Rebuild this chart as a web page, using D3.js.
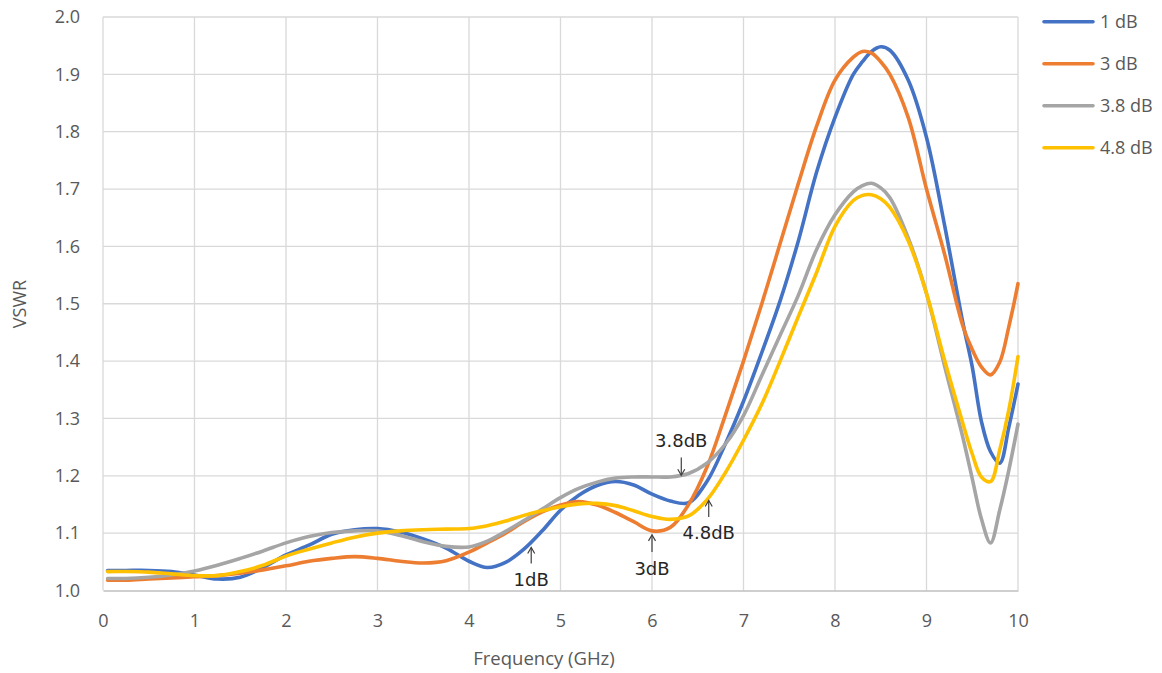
<!DOCTYPE html>
<html>
<head>
<meta charset="utf-8">
<script src="https://cdn.jsdelivr.net/npm/d3@7"></script>
<style>
  html, body { margin: 0; padding: 0; background: #ffffff; }
  svg { display: block; }
</style>
</head>
<body>
<svg id="chart" width="1162" height="673"></svg>
<script>
// ---------------- data ----------------
const freq = [0.05, 0.25, 0.5, 0.75, 1.0, 1.25, 1.5, 1.75, 2.0, 2.25, 2.5, 2.75, 3.0, 3.25, 3.5, 3.75,
  4.0, 4.2, 4.4, 4.6, 4.8, 5.0, 5.2, 5.4, 5.6, 5.8, 6.0, 6.2, 6.4, 6.6, 6.8, 7.0, 7.2, 7.4, 7.6, 7.8,
  8.0, 8.2, 8.3, 8.4, 8.5, 8.6, 8.8, 9.0, 9.2, 9.4, 9.5, 9.6, 9.7, 9.8, 9.9, 10.0];

const vswr1dB = [1.035, 1.035, 1.035, 1.033, 1.027, 1.020, 1.023, 1.040, 1.062, 1.079, 1.098, 1.106, 1.108, 1.102, 1.090, 1.074,
  1.051, 1.040, 1.049, 1.072, 1.104, 1.140, 1.166, 1.183, 1.190, 1.184, 1.168, 1.156, 1.153, 1.190, 1.255, 1.330, 1.415, 1.505, 1.610, 1.730,
  1.825, 1.900, 1.922, 1.940, 1.948, 1.942, 1.890, 1.790, 1.635, 1.465, 1.390, 1.295, 1.242, 1.222, 1.285, 1.360];

const vswr3dB = [1.018, 1.018, 1.020, 1.022, 1.024, 1.026, 1.030, 1.036, 1.043, 1.051, 1.056, 1.059, 1.056, 1.051, 1.048, 1.052,
  1.067, 1.083, 1.100, 1.120, 1.137, 1.149, 1.155, 1.149, 1.136, 1.120, 1.104, 1.110, 1.150, 1.215, 1.305, 1.400, 1.500, 1.605, 1.710, 1.810,
  1.890, 1.930, 1.940, 1.937, 1.922, 1.900, 1.825, 1.700, 1.585, 1.460, 1.420, 1.390, 1.376, 1.398, 1.460, 1.535];

const vswr38dB = [1.021, 1.021, 1.023, 1.027, 1.034, 1.044, 1.056, 1.069, 1.083, 1.094, 1.101, 1.104, 1.104, 1.096, 1.085, 1.077,
  1.076, 1.086, 1.103, 1.122, 1.142, 1.162, 1.178, 1.189, 1.196, 1.198, 1.198, 1.198, 1.204, 1.222, 1.255, 1.305, 1.375, 1.445, 1.515, 1.595,
  1.655, 1.695, 1.706, 1.710, 1.702, 1.685, 1.615, 1.518, 1.390, 1.265, 1.195, 1.125, 1.083, 1.140, 1.210, 1.290];

const vswr48dB = [1.033, 1.033, 1.032, 1.029, 1.026, 1.026, 1.033, 1.044, 1.060, 1.072, 1.083, 1.093, 1.100, 1.104, 1.106, 1.107,
  1.108, 1.113, 1.121, 1.131, 1.139, 1.146, 1.151, 1.152, 1.148, 1.139, 1.129, 1.124, 1.130, 1.158, 1.205, 1.262, 1.325, 1.400, 1.478, 1.555,
  1.635, 1.680, 1.689, 1.690, 1.683, 1.668, 1.610, 1.518, 1.400, 1.290, 1.238, 1.198, 1.190, 1.245, 1.315, 1.408];

const seriesNames = ["1 dB", "3 dB", "3.8 dB", "4.8 dB"];
const seriesValues = [vswr1dB, vswr3dB, vswr38dB, vswr48dB];
const seriesColors = ["#4472C4", "#ED7D31", "#A5A5A5", "#FFC000"];

const xTicks = [0, 1, 2, 3, 4, 5, 6, 7, 8, 9, 10];
const yTicks = [1.0, 1.1, 1.2, 1.3, 1.4, 1.5, 1.6, 1.7, 1.8, 1.9, 2.0];

// annotations: label, frequency the arrow points at, value the arrow tip sits at, direction
const annotations = [
  { label: "1dB",   f: 4.68, tip: 1.075, tail: 1.047, textV: 1.007, dir: "up" },
  { label: "3dB",   f: 6.00, tip: 1.097, tail: 1.067, textV: 1.027, dir: "up" },
  { label: "3.8dB", f: 6.32, tip: 1.201, tail: 1.232, textV: 1.251, dir: "down" },
  { label: "4.8dB", f: 6.62, tip: 1.157, tail: 1.128, textV: 1.090, dir: "up" }
];

// ---------------- drawing ----------------
const svg = d3.select("#chart");
const x = d3.scaleLinear().domain([0, 10]).range([103, 1018]);
const y = d3.scaleLinear().domain([1, 2]).range([590.5, 17]);

const tickFont = "'Open Sans', 'Noto Sans', sans-serif";

// grid
const grid = svg.append("g");
grid.selectAll("line.h").data(yTicks.slice(1)).enter().append("line")
  .attr("x1", x(0)).attr("x2", x(10))
  .attr("y1", d => y(d)).attr("y2", d => y(d))
  .attr("stroke", "#d9d9d9").attr("stroke-width", 1.3);
grid.selectAll("line.v").data(xTicks).enter().append("line")
  .attr("x1", d => x(d)).attr("x2", d => x(d))
  .attr("y1", y(1)).attr("y2", y(2))
  .attr("stroke", "#d9d9d9").attr("stroke-width", 1.3);

// x axis
const xAxis = svg.append("g").attr("transform", `translate(0,${y(1)})`)
  .call(d3.axisBottom(x).tickValues(xTicks).tickSize(0).tickPadding(24).tickFormat(d3.format("d")));
xAxis.select(".domain").attr("stroke", "#bfbfbf").attr("stroke-width", 1.3);
xAxis.selectAll("text").attr("font-family", tickFont).attr("font-size", 18).attr("fill", "#595959");

// y axis
const yAxis = svg.append("g").attr("transform", `translate(${x(0)},0)`)
  .call(d3.axisLeft(y).tickValues(yTicks).tickSize(0).tickPadding(23).tickFormat(d3.format(".1f")));
yAxis.select(".domain").remove();
yAxis.selectAll("text").attr("font-family", tickFont).attr("font-size", 18).attr("fill", "#595959");

// axis titles
svg.append("text").attr("x", 544).attr("y", 665)
  .attr("text-anchor", "middle").attr("font-family", tickFont).attr("font-size", 18.5)
  .attr("fill", "#595959").text("Frequency (GHz)");
svg.append("text").attr("transform", "translate(26,304) rotate(-90)")
  .attr("text-anchor", "middle").attr("font-family", tickFont).attr("font-size", 18)
  .attr("fill", "#595959").text("VSWR");

// lines
const line = d3.line()
  .x(d => x(d[0])).y(d => y(d[1]))
  .curve(d3.curveCatmullRom.alpha(0.5));

seriesValues.forEach((vals, i) => {
  svg.append("path")
    .datum(freq.map((f, j) => [f, vals[j]]))
    .attr("fill", "none")
    .attr("stroke", seriesColors[i])
    .attr("stroke-width", 3.6)
    .attr("stroke-linejoin", "round")
    .attr("stroke-linecap", "round")
    .attr("d", line);
});

// annotations
const ann = svg.append("g");
annotations.forEach(a => {
  const ax = x(a.f), tipY = y(a.tip), tailY = y(a.tail);
  ann.append("line").attr("x1", ax).attr("x2", ax).attr("y1", tailY).attr("y2", tipY)
    .attr("stroke", "#404040").attr("stroke-width", 1.2);
  const s = a.dir === "up" ? 1 : -1;
  ann.append("path")
    .attr("d", `M${ax - 3.5},${tipY + s * 6} L${ax},${tipY} L${ax + 3.5},${tipY + s * 6}`)
    .attr("fill", "none").attr("stroke", "#404040").attr("stroke-width", 1.2);
  ann.append("text").attr("x", ax).attr("y", y(a.textV))
    .attr("text-anchor", "middle")
    .attr("font-family", "'DejaVu Sans', sans-serif").attr("font-size", 18)
    .attr("fill", "#262626").text(a.label);
});

// legend
const legend = svg.append("g");
seriesNames.forEach((name, i) => {
  const ly = 21.7 + i * 42;
  legend.append("line").attr("x1", 1044).attr("x2", 1093).attr("y1", ly).attr("y2", ly)
    .attr("stroke", seriesColors[i]).attr("stroke-width", 3.6).attr("stroke-linecap", "round");
  legend.append("text").attr("x", 1100).attr("y", ly).attr("dy", "0.35em")
    .attr("font-family", tickFont).attr("font-size", 18).attr("fill", "#595959").text(name);
});
</script>
</body>
</html>
